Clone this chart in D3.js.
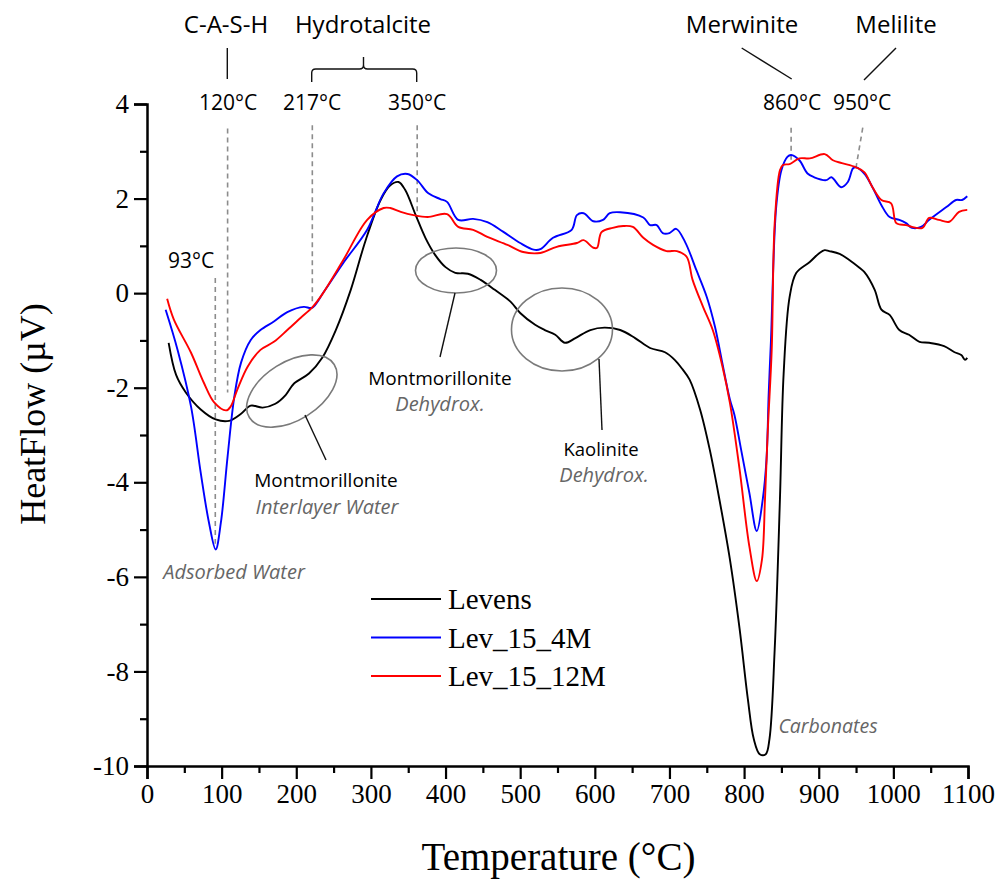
<!DOCTYPE html>
<html><head><meta charset="utf-8">
<script src="https://cdn.jsdelivr.net/npm/d3@7"></script>
<style>
body{margin:0;background:#fff;}
svg{display:block;}
</style></head><body>
<svg id="chart" width="1007" height="882"></svg>
<script>
// ---- data (Temperature °C, HeatFlow µV) ----
const levens = [[29,-1.05],[39,-1.73],[52,-2.1],[72,-2.46],[92,-2.67],[110,-2.7],[126,-2.55],[139,-2.38],[155,-2.42],[172,-2.34],[186,-2.15],[197,-1.91],[217,-1.7],[235,-1.36],[253,-0.78],[273,0.07],[293,1.12],[313,1.97],[326,2.28],[337,2.35],[346,2.18],[360,1.65],[373,1.17],[386,0.81],[400,0.55],[413,0.43],[430,0.41],[447,0.28],[466,0.07],[487,-0.18],[500,-0.42],[520,-0.67],[533,-0.78],[547,-0.88],[560,-1.05],[574,-0.95],[594,-0.78],[613,-0.73],[634,-0.78],[654,-0.95],[674,-1.16],[694,-1.25],[707,-1.41],[717,-1.6],[727,-1.83],[741,-2.46],[754,-3.31],[767,-4.37],[781,-5.63],[794,-7.1],[805,-8.58],[813,-9.43],[821,-9.75],[829,-9.75],[834,-9.43],[841,-7.53],[848,-4.37],[853,-1.7],[861,-0.08],[870,0.43],[888,0.66],[901,0.85],[908,0.91],[914,0.89],[928,0.83],[941,0.7],[955,0.53],[961,0.45],[975,0.07],[984,-0.35],[995,-0.46],[1008,-0.78],[1021,-0.88],[1035,-1.03],[1048,-1.05],[1068,-1.12],[1082,-1.25],[1091,-1.31],[1096,-1.41],[1099,-1.37]];
const lev15_4M = [[25,-0.35],[41,-1.2],[59,-2.4],[72,-3.8],[83,-4.85],[92,-5.42],[99,-4.85],[108,-3.45],[117,-2.19],[126,-1.47],[139,-0.99],[152,-0.78],[170,-0.6],[188,-0.4],[210,-0.29],[221,-0.31],[237,0.03],[263,0.64],[295,1.34],[317,2.11],[335,2.47],[349,2.52],[362,2.39],[377,2.11],[393,1.99],[402,1.93],[417,1.55],[437,1.57],[456,1.5],[477,1.3],[500,1.06],[518,0.92],[527,0.93],[544,1.17],[569,1.34],[576,1.65],[585,1.69],[598,1.52],[611,1.55],[620,1.69],[634,1.71],[665,1.6],[674,1.44],[683,1.44],[691,1.27],[700,1.27],[709,1.36],[721,1.08],[736,0.49],[750,-0.08],[761,-0.71],[770,-1.41],[781,-2.25],[787,-2.57],[796,-3.31],[807,-4.22],[817,-5.03],[825,-4.36],[830,-3.52],[833,-2.11],[836,-1.0],[843,1.82],[850,2.6],[858,2.88],[863,2.92],[874,2.81],[885,2.53],[894,2.45],[910,2.39],[917,2.45],[930,2.24],[939,2.35],[946,2.64],[950,2.66],[961,2.53],[972,2.24],[984,1.86],[995,1.61],[1008,1.55],[1017,1.48],[1025,1.38],[1037,1.4],[1048,1.55],[1071,1.82],[1084,1.97],[1092,1.97],[1099,2.05]];
const lev15_12M = [[27,-0.12],[36,-0.56],[59,-1.26],[76,-1.89],[90,-2.31],[106,-2.48],[112,-2.4],[121,-2.04],[135,-1.55],[152,-1.2],[170,-1.03],[188,-0.78],[206,-0.52],[222,-0.29],[235,-0.02],[263,0.7],[295,1.55],[317,1.8],[326,1.8],[340,1.72],[357,1.65],[376,1.61],[402,1.67],[417,1.4],[437,1.34],[456,1.19],[483,1.02],[504,0.87],[527,0.85],[549,0.98],[576,1.06],[585,1.12],[598,0.96],[603,0.96],[609,1.29],[624,1.38],[638,1.42],[651,1.4],[665,1.17],[678,1.02],[696,0.89],[710,0.89],[723,0.77],[731,0.28],[745,-0.29],[758,-0.78],[771,-1.55],[781,-2.32],[794,-3.73],[807,-5.35],[817,-6.09],[824,-5.63],[828,-4.36],[832,-2.82],[837,-1.2],[841,1.48],[848,2.6],[852,2.71],[861,2.73],[874,2.85],[888,2.85],[908,2.94],[919,2.81],[931,2.75],[950,2.66],[961,2.56],[972,2.24],[984,1.97],[997,1.9],[1004,1.48],[1017,1.44],[1025,1.4],[1039,1.38],[1048,1.59],[1061,1.55],[1075,1.51],[1088,1.72],[1099,1.76]];
const seriesNames = ["Levens","Lev_15_4M","Lev_15_12M"];
const seriesColors = ["#000000","#0000ff","#ff0000"];
const xTicks = [0,100,200,300,400,500,600,700,800,900,1000,1100];
const yTicks = [4,2,0,-2,-4,-6,-8,-10];

// ---- layout ----
const svg = d3.select("#chart");
const L = 147, R = 968, T = 104, B = 766;
const x = d3.scaleLinear().domain([0,1100]).range([L,R]);
const y = d3.scaleLinear().domain([-10,4]).range([B,T]);
const serif = "'Liberation Serif','DejaVu Serif',serif";
const sans = "'Open Sans','Lato',sans-serif";

// axes
const xMinor = d3.range(50,1100,100);
const yMinor = d3.range(-9,4,2);
const gx = svg.append("g").attr("transform",`translate(0,${B})`)
  .call(d3.axisBottom(x).tickValues(xTicks).tickSize(13).tickPadding(5).tickFormat(d3.format("d")));
svg.append("g").attr("transform",`translate(0,${B})`)
  .call(d3.axisBottom(x).tickValues(xMinor).tickSize(7).tickFormat(""))
  .call(g=>g.select(".domain").remove());
const gy = svg.append("g").attr("transform",`translate(${L},0)`)
  .call(d3.axisLeft(y).tickValues(yTicks).tickSize(13).tickPadding(5).tickFormat(d3.format("d")));
svg.append("g").attr("transform",`translate(${L},0)`)
  .call(d3.axisLeft(y).tickValues(yMinor).tickSize(7).tickFormat(""))
  .call(g=>g.select(".domain").remove());
svg.selectAll(".domain").attr("stroke","#000").attr("stroke-width",2.5);
svg.selectAll(".tick line").attr("stroke","#000").attr("stroke-width",2.2);
svg.selectAll(".tick text").attr("font-family",serif).attr("font-size",27).attr("fill","#000");
gy.selectAll(".tick text").text(d=>String(d));

svg.append("text").attr("x",(L+R)/2+1).attr("y",870).attr("text-anchor","middle")
  .attr("font-family",serif).attr("font-size",39).text("Temperature (°C)");
svg.append("text").attr("transform",`translate(45,${(T+B)/2-21}) rotate(-90)`).attr("text-anchor","middle")
  .attr("font-family",serif).attr("font-size",36).text("HeatFlow (µV)");

// ---- annotations: dashed guide lines ----
const guides = [
  {t1:91.5,h1:0.32,t2:91.5,h2:-5.3},
  {t1:108,h1:3.48,t2:108,h2:-2.1},
  {t1:221.5,h1:3.55,t2:221.5,h2:-0.25},
  {t1:362,h1:3.55,t2:362,h2:1.6},
  {t1:863,h1:3.5,t2:863,h2:2.8},
  {t1:959,h1:3.5,t2:950,h2:2.66}
];
svg.append("g").selectAll("line").data(guides).join("line")
  .attr("x1",d=>x(d.t1)).attr("y1",d=>y(d.h1)).attr("x2",d=>x(d.t2)).attr("y2",d=>y(d.h2))
  .attr("stroke","#8c8c8c").attr("stroke-width",1.6).attr("stroke-dasharray","5,4");

// ---- curves ----
const line = d3.line().x(d=>x(d[0])).y(d=>y(d[1])).curve(d3.curveCatmullRom.alpha(0.5));
const allSeries = [levens, lev15_4M, lev15_12M];
const order = [0,1,2];
svg.append("g").selectAll("path").data(order).join("path")
  .attr("d",i=>line(allSeries[i])).attr("fill","none")
  .attr("stroke",i=>seriesColors[i]).attr("stroke-width",1.9).attr("stroke-linejoin","round");

// ---- ellipses & leaders ----
const ell = [
  {t:194,h:-2.07,rx:50,ry:29,rot:-32},
  {t:414,h:0.48,rx:40.5,ry:22.5,rot:0},
  {t:556,h:-0.77,rx:50.5,ry:41.5,rot:0}
];
svg.append("g").selectAll("ellipse").data(ell).join("ellipse")
  .attr("transform",d=>`translate(${x(d.t)},${y(d.h)}) rotate(${d.rot})`)
  .attr("rx",d=>d.rx).attr("ry",d=>d.ry).attr("fill","none").attr("stroke","#7a7a7a").attr("stroke-width",1.6);
const leaders = [
  [[305,415],[326,460]],
  [[455,293],[440,357]],
  [[599,359],[602,430]],
  [[227.3,48],[227.3,79]],
  [[741.7,48],[791.7,79]],
  [[896,48],[864,80]]
];
svg.append("g").selectAll("line").data(leaders).join("line")
  .attr("x1",d=>d[0][0]).attr("y1",d=>d[0][1]).attr("x2",d=>d[1][0]).attr("y2",d=>d[1][1])
  .attr("stroke","#111").attr("stroke-width",1.4);
// brace for hydrotalcite
const bx1 = 311.7, bx2 = 416.7, bm = 363.5;
svg.append("path")
  .attr("d",`M${bx1},82 L${bx1},73 Q${bx1},69 ${bx1+4},69 L${bm-4},69 Q${bm},69 ${bm},65 L${bm},57 M${bm},65 Q${bm},69 ${bm+4},69 L${bx2-4},69 Q${bx2},69 ${bx2},73 L${bx2},82`)
  .attr("fill","none").attr("stroke","#111").attr("stroke-width",1.4);

// ---- text labels ----
const labels = [
  {s:"C-A-S-H",x:226,y:33,size:24,c:"#000",it:false},
  {s:"Hydrotalcite",x:363,y:33,size:24,c:"#000",it:false},
  {s:"Merwinite",x:742,y:33,size:24,c:"#000",it:false},
  {s:"Melilite",x:896,y:33,size:24,c:"#000",it:false},
  {s:"120°C",x:228,y:110,size:21,c:"#000",it:false},
  {s:"217°C",x:312,y:110,size:21,c:"#000",it:false},
  {s:"350°C",x:417,y:110,size:21,c:"#000",it:false},
  {s:"860°C",x:792,y:110,size:21,c:"#000",it:false},
  {s:"950°C",x:862,y:110,size:21,c:"#000",it:false},
  {s:"93°C",x:191,y:268,size:21,c:"#000",it:false},
  {s:"Montmorillonite",x:326,y:487,size:19,c:"#000",it:false},
  {s:"Interlayer Water",x:327,y:514,size:20,c:"#666",it:true},
  {s:"Montmorillonite",x:440,y:385,size:19,c:"#000",it:false},
  {s:"Dehydrox.",x:440,y:411,size:20,c:"#666",it:true},
  {s:"Kaolinite",x:601,y:456,size:18.5,c:"#000",it:false},
  {s:"Dehydrox.",x:604,y:482,size:20,c:"#666",it:true},
  {s:"Adsorbed Water",x:234,y:579,size:20,c:"#666",it:true},
  {s:"Carbonates",x:828,y:733,size:19.5,c:"#666",it:true}
];
svg.append("g").selectAll("text").data(labels).join("text")
  .attr("x",d=>d.x).attr("y",d=>d.y).attr("text-anchor","middle")
  .attr("font-family",sans).attr("font-size",d=>d.size).attr("fill",d=>d.c)
  .attr("font-style",d=>d.it?"italic":"normal").text(d=>d.s);

// ---- legend ----
const lg = svg.append("g").attr("transform","translate(371,599)");
const rows = lg.selectAll("g").data(seriesNames).join("g").attr("transform",(d,i)=>`translate(0,${i*38.5})`);
rows.append("line").attr("x1",0).attr("x2",70).attr("stroke",(d,i)=>seriesColors[i]).attr("stroke-width",2);
rows.append("text").attr("x",77).attr("y",10).attr("font-family",serif).attr("font-size",29).text(d=>d);
</script>
</body></html>
